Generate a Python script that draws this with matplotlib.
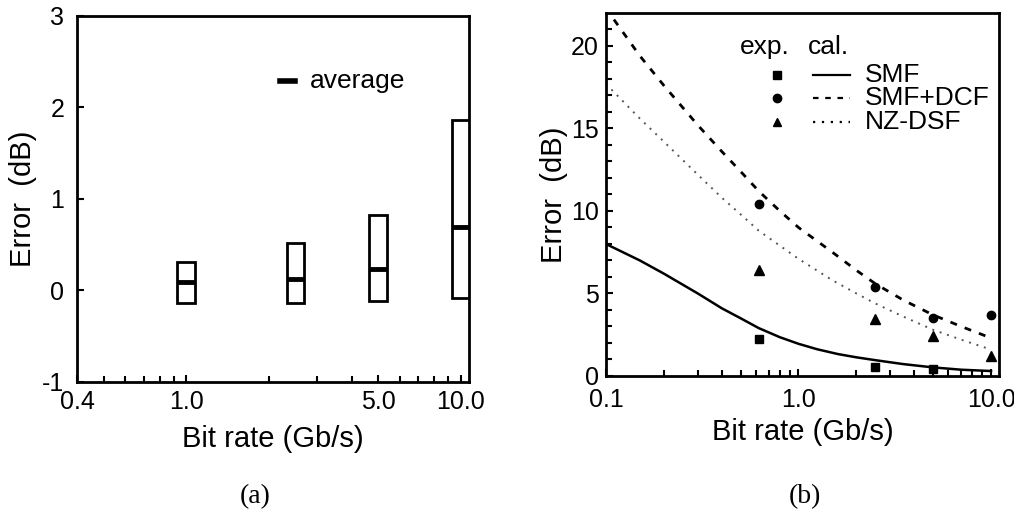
import matplotlib
matplotlib.use('Agg')
import matplotlib.pyplot as plt
import numpy as np
from matplotlib.ticker import FixedLocator, NullFormatter

plt.rcParams['font.family'] = ['Liberation Sans', 'DejaVu Sans']

# --- panel (a): error ranges vs bit rate
rate_a = [1.0, 2.5, 5.0, 10.0]
err_min = [-0.14, -0.14, -0.12, -0.08]
err_max = [0.31, 0.52, 0.82, 1.86]
err_avg = [0.09, 0.12, 0.23, 0.69]

# --- panel (b): measured points
exp_rate = [0.622, 2.488, 5.0, 10.0]
exp_smf = [2.24, 0.55, 0.40]
exp_dcf = [10.4, 5.4, 3.5, 3.7]
exp_nzdsf = [6.4, 3.45, 2.4, 1.2]

# --- panel (b): calculated curves
cal_smf_x = [0.1, 0.15, 0.2, 0.3, 0.4, 0.5, 0.622, 0.8, 1.0, 1.25, 1.6, 2.0, 2.5, 3.5, 5.0, 7.0, 10.0]
cal_smf_y = [8.0, 7.0, 6.2, 5.0, 4.1, 3.5, 2.9, 2.35, 1.95, 1.62, 1.33, 1.13, 0.96, 0.72, 0.52, 0.38, 0.30]
cal_dcf_x = [0.11, 0.15, 0.2, 0.3, 0.4, 0.5, 0.622, 0.8, 1.0, 1.5, 2.0, 2.5, 3.5, 5.0, 7.0, 10.0]
cal_dcf_y = [21.6, 19.4, 17.6, 15.2, 13.6, 12.4, 11.2, 10.0, 9.0, 7.5, 6.4, 5.6, 4.6, 3.7, 3.0, 2.3]
cal_nz_x = [0.1, 0.15, 0.2, 0.3, 0.4, 0.5, 0.622, 0.8, 1.0, 1.5, 2.0, 2.5, 3.5, 5.0, 7.0, 10.0]
cal_nz_y = [17.7, 15.6, 14.2, 12.2, 10.8, 9.8, 8.8, 7.9, 7.1, 5.8, 5.0, 4.4, 3.6, 2.8, 2.2, 1.6]

fig = plt.figure(figsize=(10.14, 5.13), dpi=100)
ax1 = fig.add_axes([0.0759, 0.2554, 0.3866, 0.7135])
ax2 = fig.add_axes([0.5976, 0.2671, 0.3876, 0.7076])

for ax in (ax1, ax2):
    for s in ax.spines.values():
        s.set_linewidth(2.0)
    ax.tick_params(which='both', direction='in', width=1.5, top=False, right=False, labelsize=18)
    ax.tick_params(which='major', length=5)
    ax.tick_params(which='minor', length=4)

# (a)
ax1.set_xscale('log')
f = 10 ** 0.032
for x, lo, hi, av in zip(rate_a, err_min, err_max, err_avg):
    ax1.bar(x / f, hi - lo, bottom=lo, width=x * f - x / f, align='edge',
            facecolor='white', edgecolor='black', linewidth=2.0)
    ax1.hlines(av, x / f, x * f, colors='black', linewidth=3.5)
ax1.set_xlim(0.4, 10.7)
ax1.set_ylim(-1, 2.95)
ax1.xaxis.set_major_locator(FixedLocator([0.4, 1.0, 5.0, 10.0]))
ax1.xaxis.set_minor_locator(FixedLocator([0.5, 0.6, 0.7, 0.8, 0.9, 2, 3, 4, 6, 7, 8, 9]))
ax1.xaxis.set_minor_formatter(NullFormatter())
ax1.set_xticklabels(['0.4', '1.0', '5.0', '10.0'])
ax1.set_yticks([-1, 0, 1, 2, 3])
ax1.set_yticklabels(['-1', '0', '1', '2', '3'])
ax1.tick_params(axis='x', pad=6)
ax1.tick_params(axis='y', pad=9)
ax1.set_xlabel('Bit rate (Gb/s)', fontsize=21, labelpad=8)
ax1.set_ylabel('Error  (dB)', fontsize=21, labelpad=4)
ax1.plot([0.518, 0.556], [0.822, 0.822], color='black', lw=4, transform=ax1.transAxes)
ax1.text(0.594, 0.822, 'average', fontsize=19, va='center', ha='left', transform=ax1.transAxes)

# (b)
ax2.set_xscale('log')
ax2.plot(cal_smf_x, cal_smf_y, color='black', lw=1.8, ls='-')
ax2.plot(cal_dcf_x, cal_dcf_y, color='black', lw=2.0, ls=(0, (2.5, 3)))
ax2.plot(cal_nz_x, cal_nz_y, color='#555555', lw=1.4, ls=(0, (1, 3)))
ax2.plot(exp_rate[:3], exp_smf, 's', color='black', ms=6)
ax2.plot(exp_rate, exp_dcf, 'o', color='black', ms=6)
ax2.plot(exp_rate, exp_nzdsf, '^', color='black', ms=7)
ax2.set_xlim(0.1, 11.0)
ax2.set_ylim(0, 22)
ax2.xaxis.set_major_locator(FixedLocator([0.1, 1.0, 10.0]))
ax2.xaxis.set_minor_locator(FixedLocator([0.2, 0.3, 0.4, 0.5, 0.6, 0.7, 0.8, 0.9, 2, 3, 4, 5, 6, 7, 8, 9]))
ax2.xaxis.set_minor_formatter(NullFormatter())
ax2.set_xticklabels(['0.1', '1.0', '10.0'])
ax2.set_yticks([0, 5, 10, 15, 20])
ax2.yaxis.set_minor_locator(FixedLocator(np.arange(0, 22, 1)))
ax2.tick_params(axis='x', pad=9)
ax2.tick_params(axis='y', pad=5)
ax2.set_xlabel('Bit rate (Gb/s)', fontsize=21, labelpad=4)
ax2.set_ylabel('Error  (dB)', fontsize=21, labelpad=2)

# legend drawn by hand to match the two-column layout
ax2.text(0.405, 0.906, 'exp.', fontsize=19, ha='center', va='center', transform=ax2.transAxes)
ax2.text(0.565, 0.906, 'cal.', fontsize=19, ha='center', va='center', transform=ax2.transAxes)
leg_y = [0.829, 0.766, 0.700]
leg_mk = ['s', 'o', '^']
leg_ls = ['-', (0, (2.5, 3)), (0, (1, 3))]
leg_txt = ['SMF', 'SMF+DCF', 'NZ-DSF']
for yy, mk, ls, tx in zip(leg_y, leg_mk, leg_ls, leg_txt):
    ax2.plot([0.435], [yy], mk, color='black', ms=6, transform=ax2.transAxes)
    ax2.plot([0.527, 0.621], [yy, yy], color='black', lw=1.6, ls=ls, transform=ax2.transAxes)
    ax2.text(0.659, yy, tx, fontsize=19, ha='left', va='center', transform=ax2.transAxes)

fig.text(0.252, 0.02, '(a)', fontsize=20, family=['Liberation Serif', 'DejaVu Serif'], ha='center')
fig.text(0.794, 0.02, '(b)', fontsize=20, family=['Liberation Serif', 'DejaVu Serif'], ha='center')

fig.savefig('out.png', dpi=100)
